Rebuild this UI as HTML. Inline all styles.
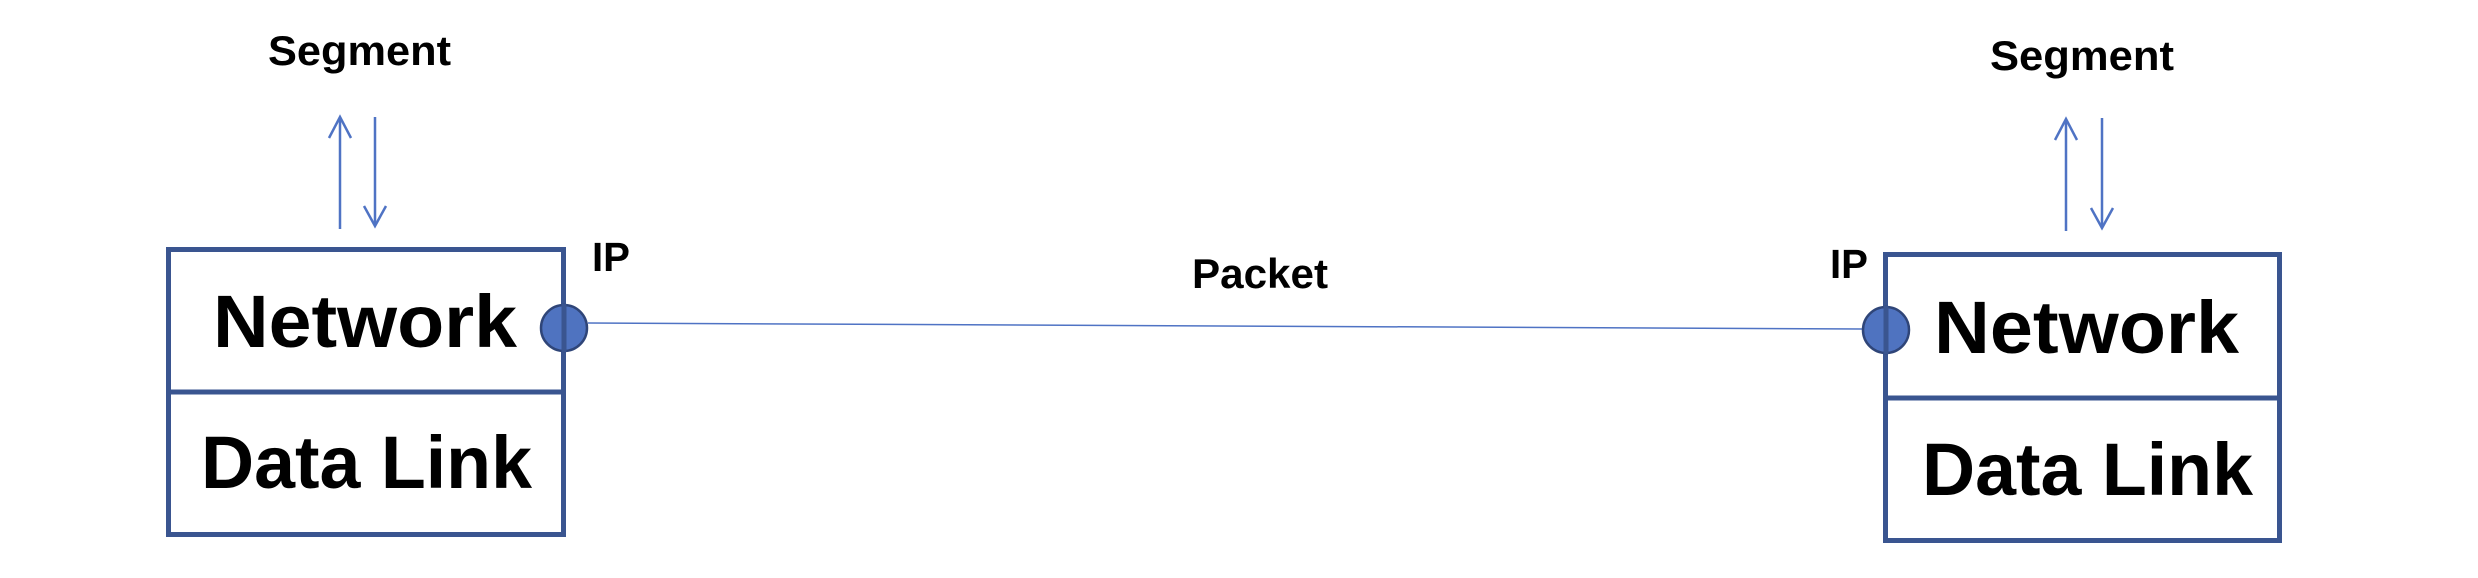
<!DOCTYPE html>
<html><head><meta charset="utf-8"><style>
html,body{margin:0;padding:0;background:#fff;}
svg{display:block;}
text{font-family:"Liberation Sans",sans-serif;font-weight:bold;fill:#000;}
</style></head><body>
<svg width="2478" height="578" viewBox="0 0 2478 578" xmlns="http://www.w3.org/2000/svg">
<rect width="2478" height="578" fill="#fff"/>
<g stroke="#4f73c4" stroke-width="2.5" fill="none">
<line x1="340" y1="229" x2="340" y2="117"/>
<polyline points="329,138 340,117 351,138"/>
<line x1="375" y1="117" x2="375" y2="226"/>
<polyline points="364,206 375,226 386,206"/>
<line x1="2066" y1="231" x2="2066" y2="119"/>
<polyline points="2055,140 2066,119 2077,140"/>
<line x1="2102" y1="118" x2="2102" y2="228"/>
<polyline points="2091,208 2102,228 2113,208"/>
<line x1="588" y1="323" x2="1862" y2="329" stroke-width="1.5"/>
</g>
<g stroke="#3a5590" stroke-width="5" fill="none">
<rect x="168.5" y="249.5" width="395" height="285"/>
<line x1="168" y1="392" x2="564" y2="392"/>
<rect x="1885.5" y="254.5" width="394" height="286"/>
<line x1="1885" y1="398" x2="2280" y2="398"/>
</g>
<circle cx="564" cy="328" r="23" fill="#4f73c0" stroke="#2f4578" stroke-width="2.5"/>
<circle cx="1886" cy="330" r="23" fill="#4f73c0" stroke="#2f4578" stroke-width="2.5"/>
<line x1="564" y1="304" x2="564" y2="352" stroke="#3a5590" stroke-width="5"/>
<line x1="1886" y1="306" x2="1886" y2="354" stroke="#3a5590" stroke-width="5"/>
<text x="268" y="65" font-size="42" textLength="183" lengthAdjust="spacingAndGlyphs">Segment</text>
<text x="1990" y="70" font-size="42" textLength="184" lengthAdjust="spacingAndGlyphs">Segment</text>
<text x="592" y="271" font-size="41" textLength="38" lengthAdjust="spacingAndGlyphs">IP</text>
<text x="1830" y="278" font-size="41" textLength="38" lengthAdjust="spacingAndGlyphs">IP</text>
<text x="1192" y="288" font-size="42" textLength="136" lengthAdjust="spacingAndGlyphs">Packet</text>
<text x="213" y="347" font-size="74" textLength="304" lengthAdjust="spacingAndGlyphs">Network</text>
<text x="201" y="488" font-size="74" textLength="331" lengthAdjust="spacingAndGlyphs">Data Link</text>
<text x="1934" y="353" font-size="74" textLength="305" lengthAdjust="spacingAndGlyphs">Network</text>
<text x="1922" y="495" font-size="74" textLength="331" lengthAdjust="spacingAndGlyphs">Data Link</text>
</svg>
</body></html>
